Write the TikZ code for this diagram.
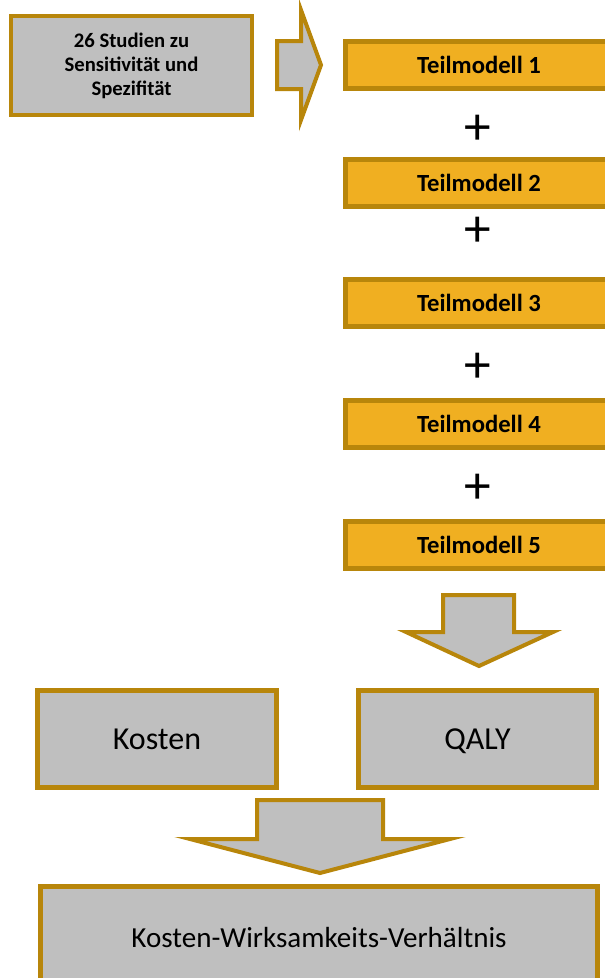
\documentclass[tikz,border=0pt]{standalone}
\usepackage{fontspec}
\setmainfont{Carlito}
\definecolor{gold}{RGB}{184,134,11}
\definecolor{orangefill}{RGB}{240,175,33}
\definecolor{greyfill}{RGB}{191,191,191}
\begin{document}
\begin{tikzpicture}[x=0.75pt,y=-0.75pt,
  greybox/.style={draw=gold, fill=greyfill, line width=3.6pt, inner sep=0pt, align=center},
  teilbox/.style={draw=gold, fill=orangefill, line width=3.75pt, inner sep=0pt,
    minimum width=268*0.75pt, minimum height=47*0.75pt,
    font=\bfseries\fontsize{18.5}{22}\selectfont},
  blockarrow/.style={draw=gold, fill=greyfill, line width=3pt, line join=miter},
  plussign/.style={font=\fontsize{40}{40}\selectfont, inner sep=0pt}]
\useasboundingbox (0,0) rectangle (605,978);
\clip (0,0) rectangle (605,978);

% input box
\node[greybox, line width=3pt, minimum width=241*0.75pt, minimum height=99*0.75pt,
  font=\bfseries\fontsize{15.5}{18}\selectfont] (studien) at (131.5,65.5)
  {26 Studien zu\\Sensitivität und\\Spezifität};

% right block arrow
\draw[blockarrow] (277,41) -- (301,41) -- (301,10) -- (321,65) -- (301,120)
  -- (301,89) -- (277,89) -- cycle;

% sub-models
\node[teilbox] (t1) at (479,65) {Teilmodell 1};
\node[teilbox] (t2) at (479,182.5) {Teilmodell 2};
\node[teilbox] (t3) at (479,302.5) {Teilmodell 3};
\node[teilbox] (t4) at (479,423.5) {Teilmodell 4};
\node[teilbox] (t5) at (479,545) {Teilmodell 5};

\node[plussign] (p1) at (478,130) {+};
\node[plussign] (p2) at (478,232) {+};
\node[plussign] (p3) at (478,368) {+};
\node[plussign] (p4) at (478,489) {+};

% down arrow to QALY
\draw[blockarrow] (443,595) -- (514,595) -- (514,632) -- (553,632) -- (479,666)
  -- (406,632) -- (443,632) -- cycle;

% results
\node[greybox, minimum width=239*0.75pt, minimum height=97*0.75pt, text depth=0pt,
  font=\fontsize{24}{28}\selectfont] (kosten) at (157,739) {Kosten};
\node[greybox, minimum width=238*0.75pt, minimum height=97*0.75pt, text depth=0pt,
  font=\fontsize{24}{28}\selectfont] (qaly) at (477.5,739) {QALY};

% down arrow to ratio
\draw[blockarrow] (257,800) -- (383,800) -- (383,839) -- (450,839) -- (320,873)
  -- (190,839) -- (257,839) -- cycle;

\node[greybox, minimum width=557*0.75pt, minimum height=103*0.75pt,
  font=\fontsize{21.8}{26}\selectfont] (kwv) at (319,938) {Kosten-Wirksamkeits-Verhältnis};
\end{tikzpicture}
\end{document}
